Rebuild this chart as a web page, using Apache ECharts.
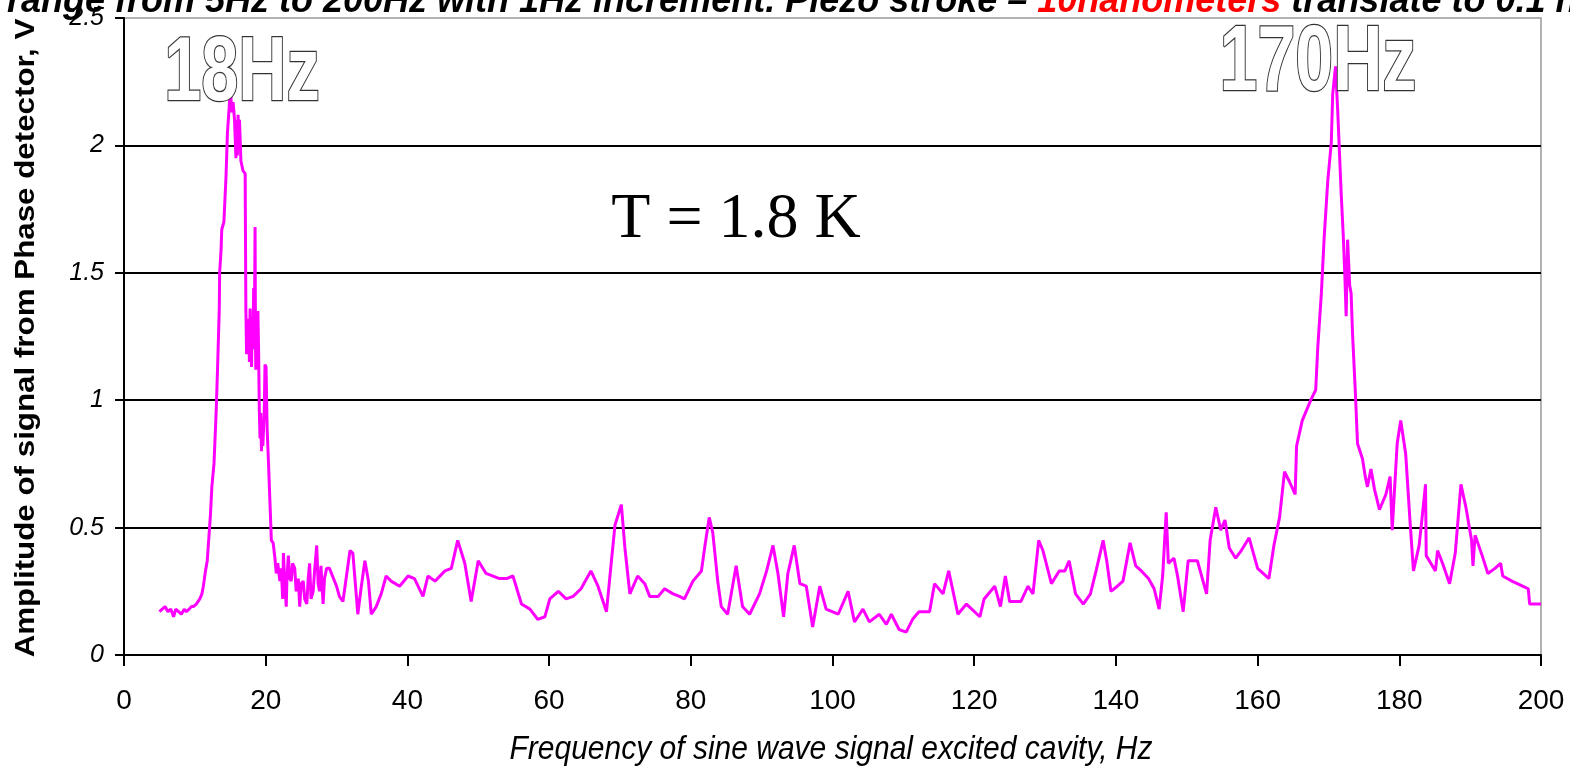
<!DOCTYPE html>
<html>
<head>
<meta charset="utf-8">
<script src="https://cdn.jsdelivr.net/npm/echarts@6/dist/echarts.min.js"></script>
<style>
html, body { margin: 0; padding: 0; background: #fff; }
#chart { width: 1570px; height: 771px; }
</style>
</head>
<body>
<div id="chart"></div>
<script>
// frequency (Hz) and amplitude (V)
const freq = [
  5.0, 5.4, 5.8, 6.2, 6.6, 7.0, 7.3, 7.7, 8.1, 8.5, 8.8, 9.2, 9.5, 9.8, 10.2, 10.7, 11.0, 11.2, 11.5, 11.75, 12.0, 12.2, 12.4, 12.7, 13.0,
  13.2, 13.45, 13.5, 13.7, 13.8, 14.1, 14.4, 14.6, 14.85, 15.0, 15.2, 15.4, 15.6, 15.8, 15.9, 16.0, 16.1, 16.2, 16.3, 16.5, 16.8, 17.1,
  17.2, 17.3, 17.4, 17.5, 17.6, 17.7, 17.8, 17.9, 18.0, 18.1, 18.2, 18.3, 18.4, 18.5, 18.55, 18.6, 18.7, 18.8, 18.9, 19.0, 19.1, 19.2, 19.3, 19.4, 19.5, 19.6, 19.8, 19.9, 20.05, 20.2, 20.4, 20.6, 20.8,
  21.05, 21.3, 21.5, 21.7, 22.0, 22.2, 22.4, 22.5, 22.7, 22.9, 23.0, 23.2, 23.4, 23.6, 23.8, 24.1, 24.3, 24.6, 24.8, 25.0, 25.3, 25.5, 25.8, 26.0, 26.2, 26.4, 26.7, 26.9, 27.2, 27.4, 27.6, 27.8, 28.1, 28.3, 28.6, 29.0, 30.0,
  30.4, 30.9, 31.4, 31.9, 32.3, 32.8, 33.0, 33.5, 34.0, 34.5, 34.9, 35.6, 36.3, 37.0, 37.7, 38.9, 40.1, 41.0, 42.2, 42.9, 43.9, 45.3, 46.2, 47.1, 48.1, 49.0, 50.0, 51.1, 53.0, 54.0, 54.9, 56.1, 57.3, 58.4, 59.4, 60.1, 61.3, 62.4, 63.4, 64.5,
  65.9, 66.9, 68.1, 68.8, 69.3, 70.2, 70.7, 71.4, 72.5, 73.5, 74.2, 75.4, 76.3, 77.5, 78.4, 79.1, 80.3, 81.5, 82.0, 82.6, 83.1, 83.8, 84.3, 85.2, 86.4, 87.3, 88.3, 89.7, 90.7, 91.6, 92.3, 93.1, 93.7, 94.6, 95.4, 96.3, 97.2, 98.2, 99.1,
  100.8, 102.2, 103.1, 104.3, 105.2, 106.6, 107.6, 108.3, 109.4, 110.4, 111.3, 112.2, 113.7, 114.4, 115.6, 116.4, 117.7, 118.9, 120.8, 121.4, 122.9, 123.7, 124.4, 125.0, 126.6, 127.6, 128.3, 129.1, 129.7, 130.9, 132.0, 132.8, 133.4, 134.3,
  135.4, 136.4, 137.2, 138.2, 138.7, 139.3, 140.2, 141.0, 142.0, 142.8, 143.6, 144.6, 145.4, 146.1, 146.6, 147.1, 147.4, 148.2, 148.7, 149.5, 150.2, 151.5, 152.3, 152.8, 153.3, 154.1, 154.8, 155.4, 156.0, 156.9, 157.7, 158.8, 160.0, 161.6, 162.3, 163.1, 163.8, 164.5, 165.3,
  165.5, 166.3, 167.5, 168.2, 168.5, 169.0, 169.4, 169.9, 170.4, 170.6, 171.0, 171.3, 171.8, 172.1, 172.3, 172.5, 172.7, 173.0, 173.2, 173.4, 173.8, 174.1, 174.8, 175.2, 175.5, 176.0, 176.5, 177.2, 178.1, 178.7,
  179.0, 179.7, 180.2, 180.9, 181.5, 182.0, 182.8, 183.3, 183.7, 183.8, 185.1, 185.4, 186.1, 187.1, 187.9, 188.7, 189.4, 190.2, 190.4, 190.7, 191.7, 192.5, 193.5, 194.3, 194.6, 195.9, 197.4, 198.2, 198.4, 200.0
]
const amp = [
  0.17, 0.18, 0.19, 0.17, 0.18, 0.15, 0.18, 0.17, 0.16, 0.18, 0.17, 0.18, 0.19, 0.19, 0.20, 0.22, 0.24, 0.27, 0.33, 0.37, 0.47, 0.55, 0.66, 0.75, 0.95,
  1.12, 1.36, 1.50, 1.59, 1.67, 1.70, 1.88, 2.05, 2.15, 2.24, 2.13, 2.17, 2.10, 1.95, 2.10, 1.96, 2.12, 2.00, 2.10, 1.94, 1.90, 1.89,
  1.36, 1.18, 1.32, 1.20, 1.30, 1.15, 1.36, 1.22, 1.13, 1.30, 1.20, 1.44, 1.25, 1.68, 1.30, 1.12, 1.35, 1.20, 1.35, 1.19, 0.96, 0.85, 0.95, 0.80, 0.90, 0.82, 0.96, 1.14, 1.13, 0.89, 0.75, 0.60, 0.45,
  0.44, 0.38, 0.32, 0.36, 0.29, 0.34, 0.22, 0.40, 0.28, 0.19, 0.30, 0.39, 0.30, 0.29, 0.36, 0.34, 0.25, 0.30, 0.19, 0.28, 0.29, 0.22, 0.20, 0.30, 0.36, 0.22, 0.25, 0.33, 0.43, 0.28, 0.25, 0.35, 0.20, 0.30, 0.34, 0.34, 0.27,
  0.23, 0.21, 0.31, 0.41, 0.40, 0.23, 0.16, 0.27, 0.37, 0.29, 0.16, 0.19, 0.24, 0.31, 0.29, 0.27, 0.31, 0.30, 0.23, 0.31, 0.29, 0.33, 0.34, 0.45, 0.36, 0.21, 0.37, 0.32, 0.30, 0.30, 0.31, 0.20, 0.18, 0.14, 0.15, 0.22, 0.25, 0.22, 0.23, 0.26,
  0.33, 0.27, 0.17, 0.37, 0.51, 0.59, 0.42, 0.24, 0.31, 0.28, 0.23, 0.23, 0.26, 0.24, 0.23, 0.22, 0.29, 0.33, 0.43, 0.54, 0.48, 0.29, 0.19, 0.16, 0.35, 0.19, 0.16, 0.24, 0.33, 0.43, 0.32, 0.15, 0.32, 0.43, 0.28, 0.27, 0.11, 0.27, 0.18,
  0.16, 0.25, 0.13, 0.18, 0.13, 0.16, 0.12, 0.16, 0.10, 0.09, 0.14, 0.17, 0.17, 0.28, 0.24, 0.33, 0.16, 0.20, 0.15, 0.22, 0.27, 0.19, 0.31, 0.21, 0.21, 0.27, 0.24, 0.45, 0.41, 0.28, 0.33, 0.33, 0.37, 0.24,
  0.20, 0.24, 0.33, 0.45, 0.37, 0.25, 0.27, 0.29, 0.44, 0.35, 0.33, 0.30, 0.26, 0.18, 0.31, 0.56, 0.36, 0.38, 0.31, 0.17, 0.37, 0.37, 0.29, 0.24, 0.45, 0.58, 0.49, 0.53, 0.42, 0.38, 0.41, 0.46, 0.34, 0.30, 0.43, 0.54, 0.72, 0.68, 0.63,
  0.82, 0.92, 1.00, 1.04, 1.21, 1.42, 1.64, 1.86, 2.01, 2.20, 2.31, 2.14, 1.81, 1.64, 1.50, 1.33, 1.63, 1.45, 1.42, 1.26, 1.03, 0.83, 0.77, 0.70, 0.66, 0.73, 0.65, 0.57, 0.63, 0.70,
  0.49, 0.83, 0.92, 0.79, 0.53, 0.33, 0.43, 0.56, 0.67, 0.39, 0.33, 0.41, 0.36, 0.28, 0.40, 0.67, 0.58, 0.45, 0.35, 0.47, 0.39, 0.32, 0.34, 0.36, 0.31, 0.29, 0.27, 0.26, 0.20, 0.20
]

const peakLabels = ["18Hz", "170Hz"]
const tempLabel = "T = 1.8 K"
const xName = "Frequency of sine wave signal excited cavity, Hz"
const yName = "Amplitude of signal from Phase detector, V"
const titleLead = "Frequency range "
const titleMain = "from 5Hz to 200Hz with 1Hz increment. Piezo stroke \u2013 "
const titleRed = "10nanometers"
const titleTail = " translate to 0.1 nm"

const points = freq.map((f, i) => [f, amp[i]])

const sans = '"Liberation Sans", Arial, sans-serif'
const titleFont = "italic bold 36px " + sans

// put "from" at ~x=115 like the cropped source title
const ctx = document.createElement("canvas").getContext("2d")
ctx.font = titleFont
const titleX = 115 - ctx.measureText(titleLead).width

function label(text, x, y, font, extra) {
  return Object.assign({
    type: "text",
    x,
    y,
    z: 100,
    style: Object.assign({
      text,
      font,
      fill: "#000",
      textAlign: "center",
      align: "center",
      textVerticalAlign: "middle",
      verticalAlign: "middle",
    }, extra && extra.style),
  }, extra && extra.el)
}

const outline = {
  fill: "#fff",
  stroke: "#333",
  lineWidth: 2.5,
  shadowColor: "rgba(0,0,0,0.35)",
  shadowBlur: 2,
  shadowOffsetX: 1,
  shadowOffsetY: 1,
}

const chart = echarts.init(document.getElementById("chart"))

chart.setOption({
  animation: false,
  backgroundColor: "#fff",
  grid: {
    left: 124,
    right: 29,
    top: 18,
    bottom: 116,
    show: true,
    borderColor: "#999",
    borderWidth: 1.5,
  },
  xAxis: {
    type: "value",
    min: 0,
    max: 200,
    interval: 20,
    axisLine: { lineStyle: { color: "#000", width: 2 } },
    axisTick: { length: 11, lineStyle: { color: "#000", width: 2 } },
    axisLabel: {
      margin: 32,
      color: "#000",
      fontSize: 28,
      fontFamily: sans,
    },
    splitLine: { show: false },
  },
  yAxis: {
    type: "value",
    min: 0,
    max: 2.5,
    interval: 0.5,
    axisLine: { show: true, lineStyle: { color: "#000", width: 2 } },
    axisTick: { show: true, length: 9, lineStyle: { color: "#000", width: 2 } },
    axisLabel: {
      margin: 20,
      color: "#000",
      fontSize: 25,
      fontStyle: "italic",
      fontFamily: sans,
    },
    splitLine: {
      show: true,
      showMinLine: false,
      showMaxLine: false,
      lineStyle: { color: "#000", width: 2 },
    },
  },
  series: [
    {
      type: "line",
      data: points,
      symbol: "none",
      lineStyle: { color: "#ff00ff", width: 3 },
      z: 3,
    },
  ],
  graphic: [
    {
      type: "text",
      x: titleX,
      y: 2.5,
      z: 50,
      style: {
        text: "{b|" + titleLead + titleMain + "}{r|" + titleRed + "}{b|" + titleTail + "}",
        font: titleFont,
        textVerticalAlign: "middle",
        verticalAlign: "middle",
        rich: {
          b: { font: titleFont, fill: "#000", color: "#000" },
          r: { font: titleFont, fill: "#ff0000", color: "#ff0000" },
        },
      },
    },
    label(peakLabels[0], 242, 75, "bold 90px " + sans, {
      el: { scaleX: 0.74 },
      style: outline,
    }),
    label(peakLabels[1], 1318, 65, "bold 92px " + sans, {
      el: { scaleX: 0.74 },
      style: outline,
    }),
    label(tempLabel, 736, 220, '64px "Liberation Serif", "Times New Roman", serif'),
    label(xName, 831, 750, "italic 30px " + sans, {
      el: { scaleY: 1.08 },
    }),
    label(yName, 27, 338, "bold 27px " + sans, {
      el: { rotation: Math.PI / 2, scaleX: 1.16 },
    }),
  ],
})
</script>
</body>
</html>
